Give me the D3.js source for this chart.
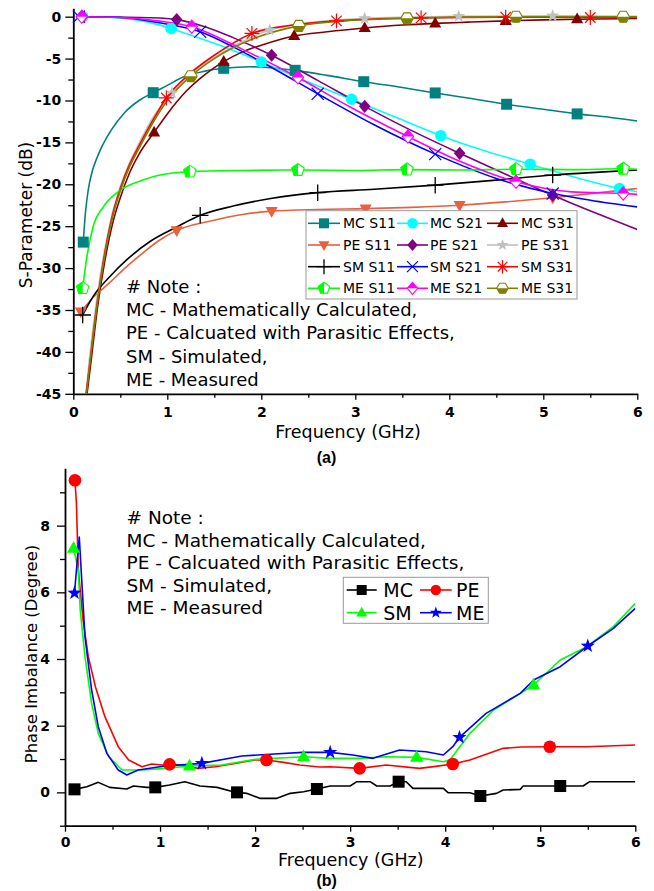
<!DOCTYPE html>
<html><head><meta charset="utf-8">
<script src="https://cdn.jsdelivr.net/npm/d3@7"></script>
<style>
html,body{margin:0;padding:0;background:#fff;}
svg{display:block;}
text{font-family:"DejaVu Sans",sans-serif;fill:#000;}
</style></head><body>
<svg id="c" width="654" height="891"></svg>
<script>
// ---------- DATA: panel (a) S-parameters (frequency GHz, dB) ----------
const freqTicks = [0,1,2,3,4,5,6];
const freqMinor = [0.5,1.5,2.5,3.5,4.5,5.5];
const sparTicks = [0,-5,-10,-15,-20,-25,-30,-35,-40,-45];
const sparMinor = [-2.5,-7.5,-12.5,-17.5,-22.5,-27.5,-32.5,-37.5,-42.5];

const mcS11 = [[0.106,-26.9],[0.13,-23.3],[0.16,-20.6],[0.2,-18.5],[0.25,-16.9],[0.3,-15.6],[0.4,-13.6],[0.55,-11.4],[0.7,-10.0],[0.85,-9.07],[1.0,-8.2],[1.17,-7.2],[1.4,-6.5],[1.6,-6.16],[1.88,-5.97],[2.1,-6.1],[2.38,-6.44],[2.7,-7.0],[3.09,-7.76],[3.5,-8.45],[3.85,-9.1],[4.25,-9.8],[4.61,-10.45],[5.0,-11.05],[5.36,-11.6],[5.7,-12.0],[6.0,-12.45]];
const mcS11Marks = [[0.106,-26.9],[0.85,-9.07],[1.6,-6.16],[2.36,-6.4],[3.09,-7.76],[3.85,-9.1],[4.61,-10.45],[5.36,-11.6]];
const mcS21 = [[0.1,0],[0.4,-0.1],[0.7,-0.45],[0.85,-0.8],[1.04,-1.4],[1.3,-2.4],[1.6,-3.6],[2.0,-5.4],[2.5,-7.8],[2.96,-9.85],[3.45,-12.1],[3.91,-14.2],[4.4,-16.1],[4.86,-17.6],[5.35,-19.2],[5.81,-20.5],[6.0,-20.9]];
const mcS21Marks = [[0.1,0],[1.04,-1.4],[2.0,-5.4],[2.96,-9.85],[3.91,-14.2],[4.86,-17.6],[5.81,-20.5]];
const mcS31 = [[0.13,-46.5],[0.19,-41],[0.26,-34.5],[0.33,-29.5],[0.42,-24.6],[0.5,-21.6],[0.6,-18.6],[0.7,-16.4],[0.86,-13.8],[1.0,-11.6],[1.2,-8.9],[1.4,-6.9],[1.6,-5.37],[1.8,-4.2],[2.0,-3.4],[2.35,-2.3],[2.7,-1.8],[3.1,-1.35],[3.5,-1.0],[3.85,-0.8],[4.2,-0.65],[4.6,-0.5],[5.0,-0.38],[5.36,-0.3],[6.0,-0.22]];
const mcS31Marks = [[0.86,-13.8],[1.6,-5.37],[2.35,-2.3],[3.1,-1.35],[3.85,-0.8],[4.6,-0.5],[5.36,-0.3]];
const peS11 = [[0.08,-35.2],[0.15,-34.3],[0.21,-33.5],[0.3,-32.6],[0.39,-31.7],[0.55,-30.0],[0.74,-28.2],[0.9,-26.8],[1.1,-25.5],[1.45,-24.4],[1.8,-23.6],[2.11,-23.2],[2.6,-23.0],[3.11,-22.9],[3.6,-22.75],[4.11,-22.5],[4.6,-22.1],[5.1,-21.6],[5.6,-21.0],[6.0,-20.5]];
const peS11Marks = [[0.08,-35.2],[1.1,-25.5],[2.11,-23.2],[3.11,-22.9],[4.11,-22.5],[5.1,-21.6]];
const peS21 = [[0.1,0],[0.5,-0.05],[0.8,-0.12],[1.1,-0.35],[1.4,-1.2],[1.7,-2.5],[2.11,-4.6],[2.6,-7.6],[3.1,-10.7],[3.6,-13.6],[4.11,-16.3],[4.6,-18.8],[5.1,-21.3],[5.55,-23.4],[6.0,-25.4]];
const peS21Marks = [[0.1,0],[1.1,-0.35],[2.11,-4.6],[3.1,-10.7],[4.11,-16.3],[5.1,-21.3]];
const peS31 = [[0.12,-46.5],[0.17,-41],[0.24,-34.5],[0.31,-29.3],[0.4,-24.2],[0.5,-20.3],[0.6,-17.4],[0.7,-15.1],[0.85,-12.0],[1.05,-9.1],[1.3,-6.4],[1.6,-4.2],[2.09,-1.6],[2.6,-0.6],[3.1,-0.2],[3.6,-0.05],[4.1,0.05],[5.1,0.1],[6.0,0.05]];
const peS31Marks = [[1.05,-9.1],[2.09,-1.6],[3.1,-0.2],[4.1,0.05],[5.1,0.1]];
const smS11 = [[0.1,-35.6],[0.21,-33.4],[0.39,-31.0],[0.57,-29.0],[0.82,-26.8],[1.1,-25.1],[1.35,-23.7],[1.7,-22.6],[2.1,-21.7],[2.6,-21.0],[3.2,-20.6],[3.85,-20.1],[4.5,-19.5],[5.1,-18.9],[5.6,-18.55],[6.0,-18.3]];
const smS11Marks = [[0.1,-35.6],[1.35,-23.7],[2.6,-21.0],[3.85,-20.1],[5.1,-18.9]];
const smS21 = [[0.06,0],[0.5,-0.1],[0.9,-0.7],[1.35,-1.8],[1.7,-3.6],[2.1,-6.0],[2.6,-9.2],[3.2,-12.9],[3.85,-16.4],[4.5,-19.3],[5.1,-21.1],[5.5,-21.9],[6.0,-22.7]];
const smS21Marks = [[0.06,0],[1.35,-1.8],[2.6,-9.2],[3.85,-16.4],[5.1,-21.1]];
const smS31 = [[0.12,-46.5],[0.18,-41],[0.25,-34.5],[0.32,-29.2],[0.41,-24],[0.5,-20.5],[0.6,-17.6],[0.7,-15.4],[0.85,-12.3],[0.99,-9.7],[1.25,-6.7],[1.5,-4.6],[1.9,-2.0],[2.3,-1.05],[2.8,-0.5],[3.7,-0.15],[4.6,-0.05],[5.5,-0.1],[6.0,-0.1]];
const smS31Marks = [[0.99,-9.7],[1.9,-2.0],[2.8,-0.5],[3.7,-0.15],[4.6,-0.05],[5.5,-0.1]];
const meS11 = [[0.1,-32.4],[0.14,-29],[0.21,-25.1],[0.32,-22.7],[0.5,-20.7],[0.74,-19.5],[0.92,-18.9],[1.24,-18.5],[1.8,-18.35],[2.39,-18.3],[3.0,-18.35],[3.55,-18.25],[4.1,-18.3],[4.71,-18.2],[5.3,-18.25],[5.85,-18.15],[6.0,-18.2]];
const meS11Marks = [[0.1,-32.4],[1.24,-18.5],[2.39,-18.3],[3.55,-18.25],[4.71,-18.2],[5.85,-18.15]];
const meS21 = [[0.09,0],[0.5,-0.1],[0.9,-0.5],[1.26,-1.2],[1.8,-3.9],[2.39,-7.25],[2.95,-10.8],[3.56,-14.3],[4.1,-17.2],[4.71,-19.7],[5.3,-20.9],[5.85,-21.1],[6.0,-21.2]];
const meS21Marks = [[0.09,0],[1.26,-1.2],[2.39,-7.25],[3.56,-14.3],[4.71,-19.7],[5.85,-21.1]];
const meS31 = [[0.125,-46.5],[0.18,-41],[0.25,-34.6],[0.32,-29.4],[0.41,-24.3],[0.5,-20.8],[0.6,-17.9],[0.7,-15.7],[0.85,-12.6],[1.0,-10.0],[1.25,-7.1],[1.5,-5.0],[1.9,-2.7],[2.4,-1.1],[2.9,-0.5],[3.55,-0.2],[4.1,-0.05],[4.71,0],[5.3,0],[5.85,0],[6.0,0]];
const meS31Marks = [[1.25,-7.1],[2.4,-1.1],[3.55,-0.2],[4.71,0],[5.85,0]];

// ---------- DATA: panel (b) phase imbalance (frequency GHz, degree) ----------
const phaseTicks = [0,2,4,6,8];
const phaseMinor = [-1,1,3,5,7,9];
const mcPI = [[0.1,0.09],[0.23,0.17],[0.35,0.3],[0.47,0.15],[0.65,0.1],[0.72,0.19],[0.86,0.15],[0.95,0.15],[1.1,0.22],[1.26,0.32],[1.42,0.19],[1.6,0.15],[1.77,0.02],[1.91,-0.03],[2.05,-0.18],[2.23,-0.18],[2.37,-0.03],[2.51,0.02],[2.65,0.1],[2.79,0.19],[3.0,0.19],[3.07,0.32],[3.21,0.32],[3.28,0.19],[3.42,0.19],[3.51,0.32],[3.59,0.32],[3.66,0.12],[3.98,0.12],[4.03,-0.01],[4.26,-0.01],[4.37,-0.11],[4.54,-0.03],[4.61,0.07],[4.79,0.09],[4.82,0.19],[5.21,0.19],[5.45,0.19],[5.52,0.32],[6.0,0.32]];
const mcPIMarks = [[0.1,0.09],[0.95,0.15],[1.81,0.0],[2.65,0.1],[3.51,0.32],[4.37,-0.11],[5.21,0.19]];
const pePI = [[0.105,9.36],[0.12,8.67],[0.14,6.67],[0.19,5.17],[0.245,4.07],[0.32,3.17],[0.42,2.27],[0.56,1.37],[0.67,0.97],[0.81,0.77],[0.91,0.85],[1.02,0.82],[1.1,0.84],[1.23,0.82],[1.4,0.72],[1.58,0.77],[1.79,0.87],[2.0,0.97],[2.12,0.97],[2.3,0.9],[2.47,0.82],[2.68,0.76],[2.79,0.77],[3.1,0.72],[3.38,0.82],[3.73,0.72],[3.9,0.78],[4.08,0.85],[4.26,0.97],[4.61,1.32],[4.8,1.36],[5.1,1.37],[5.49,1.37],[6.0,1.42]];
const pePIMarks = [[0.105,9.36],[1.1,0.84],[2.12,0.97],[3.1,0.72],[4.08,0.85],[5.1,1.37]];
const smPI = [[0.09,7.32],[0.14,6.67],[0.16,5.47],[0.21,4.07],[0.28,2.67],[0.35,1.77],[0.46,1.07],[0.6,0.67],[0.81,0.67],[1.05,0.72],[1.31,0.79],[1.65,0.82],[2.0,0.99],[2.51,1.07],[2.79,1.02],[3.1,1.02],[3.38,1.07],[3.7,1.05],[3.98,0.92],[4.05,0.97],[4.26,1.77],[4.51,2.47],[4.93,3.22],[5.21,3.97],[5.49,4.37],[5.77,4.97],[6.0,5.67]];
const smPIMarks = [[0.09,7.32],[1.31,0.79],[2.51,1.07],[3.7,1.05],[4.93,3.22]];
const mePI = [[0.1,5.98],[0.15,7.66],[0.18,6.17],[0.21,4.67],[0.28,3.07],[0.35,1.97],[0.44,1.17],[0.56,0.67],[0.65,0.52],[0.77,0.67],[1.05,0.79],[1.44,0.87],[1.86,1.09],[2.2,1.15],[2.5,1.2],[2.79,1.2],[3.03,1.12],[3.24,1.02],[3.52,1.27],[3.8,1.22],[3.98,1.12],[4.08,1.37],[4.15,1.65],[4.43,2.37],[4.79,2.97],[4.93,3.37],[5.21,3.77],[5.5,4.39],[5.77,4.92],[6.0,5.52]];
const mePIMarks = [[0.1,5.98],[1.44,0.87],[2.79,1.2],[4.15,1.65],[5.5,4.39]];

const noteLines = ["# Note :","MC - Mathematically Calculated,","PE - Calcuated with Parasitic Effects,","SM - Simulated,","ME - Measured"];

// ---------- series configs ----------
const seriesA = [
  {name:"MC S11", pts:mcS11, marks:mcS11Marks, color:"#008080", sym:"square"},
  {name:"MC S21", pts:mcS21, marks:mcS21Marks, color:"#00FFFF", sym:"circle"},
  {name:"MC S31", pts:mcS31, marks:mcS31Marks, color:"#800000", sym:"triUp"},
  {name:"PE S11", pts:peS11, marks:peS11Marks, color:"#E8603C", sym:"triDown"},
  {name:"PE S21", pts:peS21, marks:peS21Marks, color:"#800080", sym:"diamond"},
  {name:"PE S31", pts:peS31, marks:peS31Marks, color:"#C0C0C0", sym:"star"},
  {name:"SM S11", pts:smS11, marks:smS11Marks, color:"#000000", sym:"plus"},
  {name:"SM S21", pts:smS21, marks:smS21Marks, color:"#0000FF", sym:"cross"},
  {name:"SM S31", pts:smS31, marks:smS31Marks, color:"#FF0000", sym:"aster"},
  {name:"ME S11", pts:meS11, marks:meS11Marks, color:"#00FF00", sym:"pentHalf"},
  {name:"ME S21", pts:meS21, marks:meS21Marks, color:"#FF00FF", sym:"diamHalf"},
  {name:"ME S31", pts:meS31, marks:meS31Marks, color:"#808000", sym:"hexHalf"}
];
const seriesB = [
  {name:"MC", pts:mcPI, marks:mcPIMarks, color:"#000000", sym:"square"},
  {name:"PE", pts:pePI, marks:pePIMarks, color:"#FF0000", sym:"circle"},
  {name:"SM", pts:smPI, marks:smPIMarks, color:"#00FF00", sym:"triUp"},
  {name:"ME", pts:mePI, marks:mePIMarks, color:"#0000FF", sym:"star"}
];

const svg = d3.select("#c");

function polyPts(n, R, startDeg){
  const p=[];
  for(let i=0;i<n;i++){const a=(startDeg+360*i/n)*Math.PI/180;p.push([R*Math.cos(a),R*Math.sin(a)]);}
  return p;
}
function pathOf(p){return "M"+p.map(d=>d[0].toFixed(2)+","+d[1].toFixed(2)).join("L")+"Z";}

function sym(g, type, x, y, s, color){
  const t = g.append("g").attr("transform",`translate(${x},${y})`);
  const h = s/2;
  if(type==="square"){
    t.append("rect").attr("x",-h).attr("y",-h).attr("width",s).attr("height",s).attr("fill",color);
  } else if(type==="circle"){
    t.append("circle").attr("r",h*1.05).attr("fill",color);
  } else if(type==="triUp"){
    t.append("path").attr("d",`M0,${-h*1.2}L${h*1.1},${h*0.75}L${-h*1.1},${h*0.75}Z`).attr("fill",color);
  } else if(type==="triDown"){
    t.append("path").attr("d",`M0,${h*1.2}L${h*1.1},${-h*0.75}L${-h*1.1},${-h*0.75}Z`).attr("fill",color);
  } else if(type==="diamond"){
    t.append("path").attr("d",`M0,${-h*1.2}L${h*1.05},0L0,${h*1.2}L${-h*1.05},0Z`).attr("fill",color);
  } else if(type==="star"){
    const p=[];
    for(let i=0;i<10;i++){const r=i%2?h*0.5:h*1.25;const a=(-90+36*i)*Math.PI/180;p.push([r*Math.cos(a),r*Math.sin(a)]);}
    t.append("path").attr("d",pathOf(p)).attr("fill",color);
  } else if(type==="plus"){
    t.append("path").attr("d",`M${-h*1.5},0H${h*1.5}M0,${-h*1.5}V${h*1.5}`).attr("stroke",color).attr("stroke-width",1.3).attr("fill","none");
  } else if(type==="cross"){
    t.append("path").attr("d",`M${-h*1.1},${-h*1.1}L${h*1.1},${h*1.1}M${-h*1.1},${h*1.1}L${h*1.1},${-h*1.1}`).attr("stroke",color).attr("stroke-width",1.2).attr("fill","none");
  } else if(type==="aster"){
    const r=h*1.35, d=r*0.707;
    t.append("path").attr("d",`M${-r},0H${r}M0,${-r}V${r}M${-d},${-d}L${d},${d}M${-d},${d}L${d},${-d}`).attr("stroke",color).attr("stroke-width",1.2).attr("fill","none");
  } else if(type==="pentHalf"){
    const p=polyPts(5,h*1.2,-90);
    t.append("path").attr("d",pathOf(p)).attr("fill","#fff").attr("stroke",color).attr("stroke-width",1.1);
    const yb=p[2][1];
    t.append("path").attr("d",pathOf([p[0],p[4],p[3],[0,yb]])).attr("fill",color);
  } else if(type==="diamHalf"){
    const dp=[[0,-h*1.2],[h*1.05,0],[0,h*1.2],[-h*1.05,0]];
    t.append("path").attr("d",pathOf(dp)).attr("fill","#fff").attr("stroke",color).attr("stroke-width",1.1);
    t.append("path").attr("d",pathOf([dp[0],dp[1],dp[3]])).attr("fill",color);
  } else if(type==="hexHalf"){
    const p=polyPts(6,h*1.15,0);
    t.append("path").attr("d",pathOf(p)).attr("fill","#fff").attr("stroke",color).attr("stroke-width",1.1);
    t.append("path").attr("d",pathOf([p[0],p[1],p[2],p[3]])).attr("fill",color);
  }
}

function styleAxis(g){
  g.select(".domain").attr("stroke","#000").attr("stroke-width",1.8);
  g.selectAll(".tick line").attr("stroke","#000").attr("stroke-width",1.3);
  g.selectAll(".tick text").attr("font-family","DejaVu Sans").attr("font-weight","bold").attr("font-size","14px").attr("fill","#000");
}

function drawPanel(cfg){
  const {x,y,series,xTicks,xMinor,yTicks,yMinor,yPad,xPad,curve,clipId,lw,msize} = cfg;
  const [x0,x1]=x.range(), [y0,y1]=y.range();
  svg.append("clipPath").attr("id",clipId).append("rect")
    .attr("x",x0).attr("y",y1).attr("width",x1-x0).attr("height",y0-y1);
  const gx = svg.append("g").attr("transform",`translate(0,${y0})`)
    .call(d3.axisBottom(x).tickValues(xTicks).tickSize(6).tickSizeOuter(0).tickPadding(xPad).tickFormat(d3.format("d")));
  styleAxis(gx);
  const gxm = svg.append("g").attr("transform",`translate(0,${y0})`)
    .call(d3.axisBottom(x).tickValues(xMinor).tickSize(4).tickSizeOuter(0).tickFormat(""));
  gxm.select(".domain").remove(); styleAxis(gxm);
  const gy = svg.append("g").attr("transform",`translate(${x0},0)`)
    .call(d3.axisLeft(y).tickValues(yTicks).tickSize(8).tickSizeOuter(0).tickPadding(yPad).tickFormat(d3.format("d")));
  styleAxis(gy);
  gy.selectAll(".tick text").text(d=>d<0?"-"+Math.abs(d):d);
  const gym = svg.append("g").attr("transform",`translate(${x0},0)`)
    .call(d3.axisLeft(y).tickValues(yMinor).tickSize(5).tickSizeOuter(0).tickFormat(""));
  gym.select(".domain").remove(); styleAxis(gym);

  const line = d3.line().x(d=>x(d[0])).y(d=>y(d[1])).curve(curve);
  const gl = svg.append("g").attr("clip-path",`url(#${clipId})`);
  series.forEach(s=>{
    gl.append("path").attr("d",line(s.pts)).attr("fill","none").attr("stroke",s.color).attr("stroke-width",lw).attr("stroke-linejoin","round");
  });
  const gm = svg.append("g");
  series.forEach(s=>{
    s.marks.forEach(m=>sym(gm,s.sym,x(m[0]),y(m[1]),msize,s.color));
  });
}

// ---------- panel (a) ----------
const xa = d3.scaleLinear().domain([0,6]).range([73.3,637.3]);
const ya = d3.scaleLinear().domain([-45,1]).range([393.8,8.3]);
drawPanel({x:xa,y:ya,series:seriesA,xTicks:freqTicks,xMinor:freqMinor,yTicks:sparTicks,yMinor:sparMinor,
  yPad:4,xPad:7.3,curve:d3.curveMonotoneX,clipId:"clipA",lw:1.6,msize:11});

// legend (a)
const legA = svg.append("g");
legA.append("rect").attr("x",306).attr("y",210.7).attr("width",271).attr("height",88.3)
  .attr("fill","#fff").attr("stroke","#999").attr("stroke-width",1);
const colA = [[308,340,343],[397,428,430],[487,518,521]];
const rowA = [223.3,245,266.7,288.3];
seriesA.forEach((s,i)=>{
  const c=colA[i%3], r=rowA[Math.floor(i/3)];
  legA.append("line").attr("x1",c[0]).attr("x2",c[1]).attr("y1",r).attr("y2",r).attr("stroke",s.color).attr("stroke-width",1.6);
  sym(legA,s.sym,(c[0]+c[1])/2,r,10,s.color);
  legA.append("text").attr("x",c[2]).attr("y",r+5).attr("font-size","14px").text(s.name);
});

// note (a)
noteLines.forEach((t,i)=>{
  svg.append("text").attr("x",126).attr("y",292.7+i*23.3).attr("font-size","18px").text(t);
});

// axis titles (a)
svg.append("text").attr("x",348).attr("y",437.5).attr("text-anchor","middle").attr("font-size","17.5px").text("Frequency (GHz)");
svg.append("text").attr("transform","translate(32,215) rotate(-90)").attr("text-anchor","middle").attr("font-size","17px").text("S-Parameter (dB)");
svg.append("text").attr("x",326.5).attr("y",463).attr("text-anchor","middle").attr("font-size","16px").attr("font-weight","bold")
  .style("font-family","'Liberation Sans', Arial, sans-serif").text("(a)");

// ---------- panel (b) ----------
const xb = d3.scaleLinear().domain([0,6]).range([65,635.3]);
const yb = d3.scaleLinear().domain([-1,9.72]).range([825.7,468.3]);
drawPanel({x:xb,y:yb,series:seriesB,xTicks:freqTicks,xMinor:freqMinor,yTicks:phaseTicks,yMinor:phaseMinor,
  yPad:7,xPad:5,curve:d3.curveLinear,clipId:"clipB",lw:1.6,msize:12});

// legend (b)
const legB = svg.append("g");
legB.append("rect").attr("x",343.3).attr("y",577.3).attr("width",145).attr("height",46)
  .attr("fill","#fff").attr("stroke","#999").attr("stroke-width",1);
const colB = [[346.7,376.7,383.3],[420,451.7,456]];
const rowB = [590,612.7];
seriesB.forEach((s,i)=>{
  const c=colB[i%2], r=rowB[Math.floor(i/2)];
  legB.append("line").attr("x1",c[0]).attr("x2",c[1]).attr("y1",r).attr("y2",r).attr("stroke",s.color).attr("stroke-width",1.6);
  sym(legB,s.sym,(c[0]+c[1])/2,r,10,s.color);
  legB.append("text").attr("x",c[2]).attr("y",r+7).attr("font-size","19px").text(s.name);
});

// note (b)
noteLines.forEach((t,i)=>{
  svg.append("text").attr("x",126.5).attr("y",524+i*22.5).attr("font-size","18.5px").text(t);
});

svg.append("text").attr("x",350.8).attr("y",866).attr("text-anchor","middle").attr("font-size","17.5px").text("Frequency (GHz)");
svg.append("text").attr("transform","translate(36.5,654) rotate(-90)").attr("text-anchor","middle").attr("font-size","16.5px").text("Phase Imbalance (Degree)");
svg.append("text").attr("x",326.7).attr("y",886).attr("text-anchor","middle").attr("font-size","16px").attr("font-weight","bold")
  .style("font-family","'Liberation Sans', Arial, sans-serif").text("(b)");
</script></body></html>
